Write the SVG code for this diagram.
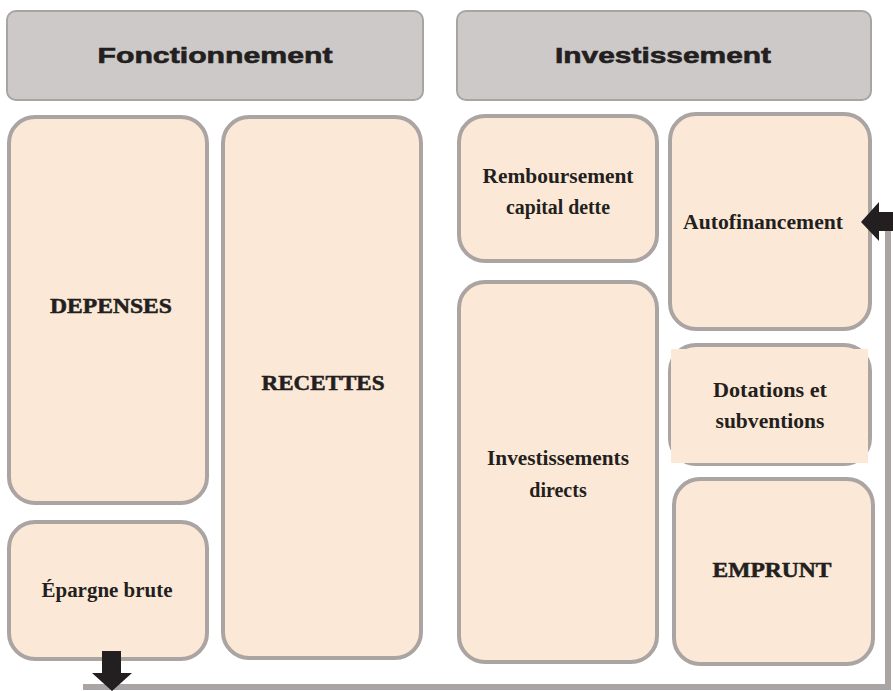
<svg xmlns="http://www.w3.org/2000/svg" width="893" height="691" viewBox="0 0 893 691">
<style>
.hdr{fill:#cdc9c8;stroke:#a9a4a2;stroke-width:2}
.box{fill:#fce8d7;stroke:#aaa4a2;stroke-width:4}
.ht{font-family:"Liberation Sans",Arial,sans-serif;font-weight:bold;font-size:22px;fill:#231f20;stroke:#231f20;stroke-width:0.6;text-anchor:middle}
.t{font-family:"Liberation Serif","Times New Roman",serif;font-weight:bold;font-size:20px;fill:#231f20;text-anchor:middle}
.cap{font-family:"Liberation Serif","Times New Roman",serif;font-weight:bold;font-size:20px;fill:#231f20;stroke:#231f20;stroke-width:0.5;text-anchor:middle}
.line{fill:none;stroke:#aaa4a2;stroke-width:6}
.arr{fill:#231f20}
</style>
<rect width="893" height="691" fill="#ffffff"/>
<g id="fonctionnement">
<rect class="hdr" x="7" y="11" width="416" height="89" rx="9"/>
<text class="ht" x="215" y="63" textLength="235" lengthAdjust="spacingAndGlyphs">Fonctionnement</text>
</g>
<g id="investissement">
<rect class="hdr" x="457" y="11" width="414" height="89" rx="9"/>
<text class="ht" x="663" y="63" textLength="216" lengthAdjust="spacingAndGlyphs">Investissement</text>
</g>
<g id="depenses">
<rect class="box" x="9" y="117" width="198" height="386" rx="26"/>
<text class="cap" x="111" y="313" textLength="122" lengthAdjust="spacingAndGlyphs">DEPENSES</text>
</g>
<g id="recettes">
<rect class="box" x="223" y="117" width="198" height="541" rx="26"/>
<text class="cap" x="323" y="390" textLength="123" lengthAdjust="spacingAndGlyphs">RECETTES</text>
</g>
<g id="epargne">
<rect class="box" x="9" y="522" width="198" height="137" rx="26"/>
<text class="t" x="107" y="597" textLength="131" lengthAdjust="spacingAndGlyphs">Épargne brute</text>
</g>
<g id="remboursement">
<rect class="box" x="459" y="116" width="198" height="145" rx="26"/>
<text class="t" x="558" y="183" textLength="151" lengthAdjust="spacingAndGlyphs">Remboursement</text>
<text class="t" x="558" y="214" textLength="104" lengthAdjust="spacingAndGlyphs">capital dette</text>
</g>
<g id="investissements-directs">
<rect class="box" x="459" y="282" width="198" height="380" rx="26"/>
<text class="t" x="558" y="465" textLength="142" lengthAdjust="spacingAndGlyphs">Investissements</text>
<text class="t" x="558" y="497">directs</text>
</g>
<g id="autofinancement">
<rect class="box" x="670" y="114" width="200" height="215" rx="26"/>
<text class="t" x="763" y="229" textLength="160" lengthAdjust="spacingAndGlyphs">Autofinancement</text>
</g>
<g id="dotations">
<rect class="box" x="670" y="345" width="200" height="119" rx="26"/>
<rect x="671" y="349" width="197" height="114" fill="#fce8d7"/>
<text class="t" x="770" y="397" textLength="114" lengthAdjust="spacingAndGlyphs">Dotations et</text>
<text class="t" x="770" y="428" textLength="109" lengthAdjust="spacingAndGlyphs">subventions</text>
</g>
<g id="emprunt">
<rect class="box" x="674" y="479" width="199" height="185" rx="26"/>
<text class="cap" x="772" y="577" textLength="119" lengthAdjust="spacingAndGlyphs">EMPRUNT</text>
</g>
<g id="connectors">
<polyline class="line" points="83,687 888,687 888,230"/>
<polygon class="arr" points="102,651 121,651 121,673 132,673 112,691 92,673 102,673"/>
<polygon class="arr" points="893,212 879,212 879,202 861,222 879,241 879,231 893,231"/>
</g>
</svg>
